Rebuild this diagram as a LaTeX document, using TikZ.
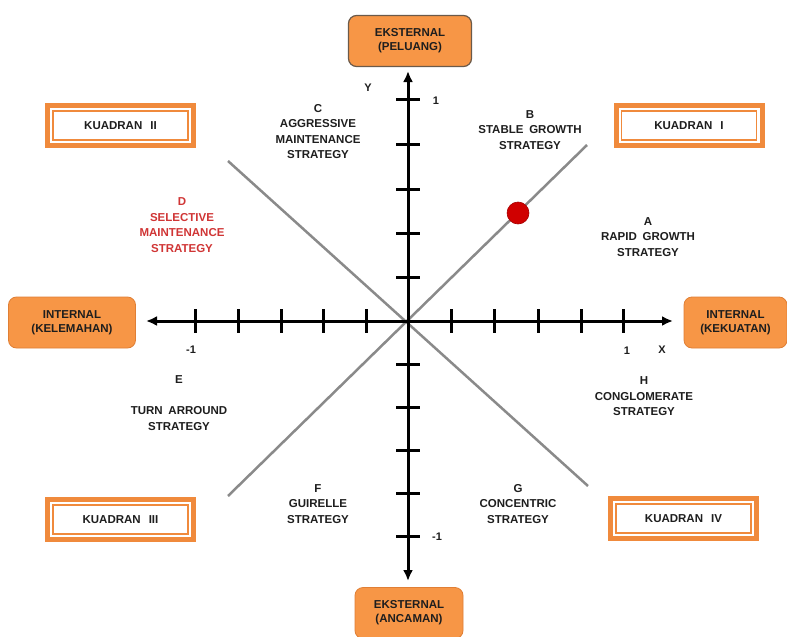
\documentclass[tikz,border=0pt]{standalone}
\usepackage{fontspec}
\setmainfont{Liberation Sans}
\usetikzlibrary{arrows.meta}
\definecolor{boxorange}{HTML}{F79646}
\definecolor{boxedge}{HTML}{E07F35}
\definecolor{topedge}{HTML}{6B5A4A}
\definecolor{kor}{HTML}{F08A3C}
\definecolor{txt}{HTML}{1E1E1E}
\definecolor{dred}{HTML}{D03535}
\definecolor{dotred}{HTML}{D00000}
\definecolor{diag}{HTML}{8A8A8A}
\begin{document}
\begin{tikzpicture}[x=1pt,y=-1pt,
  lbl/.style={font=\bfseries\fontsize{11.5}{15.5}\selectfont, align=center, inner sep=0pt, text=txt},
  obox/.style={rounded corners=8pt, fill=boxorange, draw=boxedge, line width=0.8pt,
    minimum height=51pt, align=center, inner sep=0pt, outer sep=0pt,
    font=\bfseries\fontsize{11.5}{14}\selectfont, text=txt},
  kbox/.style={draw=kor, line width=5pt, fill=white, minimum width=146pt, minimum height=40pt,
    inner sep=0pt, outer sep=0pt, font=\bfseries\fontsize{11.5}{14}\selectfont, text=txt},
  axis/.style={line width=3pt, black},
  tickmark/.style={line width=3pt, black},
  diagline/.style={line width=2.5pt, diag},
  num/.style={font=\bfseries\fontsize{11}{13}\selectfont, inner sep=0pt, text=txt}
]
\useasboundingbox (0,0) rectangle (787,637);
\fill[white] (0,0) rectangle (787,637);

% diagonal lines
\coordinate (d1a) at (228,496);
\coordinate (d1b) at (587,145);
\coordinate (d2a) at (228,161);
\coordinate (d2b) at (588,486);
\draw[diagline] (d1a) -- (d1b);
\draw[diagline] (d2a) -- (d2b);

% axes
\coordinate (xl) at (146,321);
\coordinate (xr) at (673,321);
\coordinate (yt) at (408,71);
\coordinate (yb) at (408,581);
\draw[axis, {Latex[length=11pt,width=10pt]}-{Latex[length=11pt,width=10pt]}] (xl) -- (xr);
\draw[axis, {Latex[length=11pt,width=10pt]}-{Latex[length=11pt,width=10pt]}] (yt) -- (yb);

% ticks
\foreach \x in {195,238,281,323,366,451,494,538,581,623}
  \draw[tickmark] (\x,309) -- (\x,333);
\foreach \y in {99,144,189,233,277,364,407,450,493,536}
  \draw[tickmark] (396,\y) -- (420,\y);

% red dot
\node[circle, fill=dotred, draw=dotred!80!black, line width=0.6pt, minimum size=22pt, inner sep=0pt] (dot) at (518,213) {};

% axis labels
\node[num] (ylab) at (368,88) {Y};
\node[num] (y1) at (436,101) {1};
\node[num] (ym1) at (437,537) {-1};
\node[num] (xm1) at (191,350) {-1};
\node[num] (x1) at (627,351) {1};
\node[num] (xlab) at (662,350) {X};

% orange boxes
\node[obox, draw=topedge, line width=1.2pt, minimum width=123pt] (ekst) at (410,41) {EKSTERNAL\\(PELUANG)};
\node[obox, minimum width=127pt] (ikel) at (72,322.5) {INTERNAL\\(KELEMAHAN)};
\node[obox, minimum width=103pt] (ikek) at (735.5,322.5) {INTERNAL\\(KEKUATAN)};
\node[obox, minimum width=108pt] (eanc) at (409,613) {EKSTERNAL\\(ANCAMAN)};

% kuadran boxes
\node[kbox] (k2) at (120.5,125.5) {KUADRAN\hspace{0.7em}II};
\node[kbox] (k1) at (689,125.5) {KUADRAN\hspace{0.7em}I};
\node[kbox] (k3) at (120.5,519.5) {KUADRAN\hspace{0.7em}III};
\node[kbox] (k4) at (683.5,518.5) {KUADRAN\hspace{0.7em}IV};
\foreach \k in {k1,k2,k3,k4}
  \draw[kor, line width=1.3pt] ([xshift=5.5pt,yshift=-5.5pt]\k.north west) rectangle ([xshift=-5.5pt,yshift=5.5pt]\k.south east);

% strategy labels
\node[lbl] (lc) at (318,131.5) {C\\AGGRESSIVE\\MAINTENANCE\\STRATEGY};
\node[lbl] (lb) at (530,130) {B\\STABLE\hspace{0.5em}GROWTH\\STRATEGY};
\node[lbl, text=dred] (ld) at (182,225) {D\\SELECTIVE\\MAINTENANCE\\STRATEGY};
\node[lbl] (la) at (648,237) {A\\RAPID\hspace{0.5em}GROWTH\\STRATEGY};
\node[lbl] (le) at (179,403) {E\\[15.5pt]TURN\hspace{0.5em}ARROUND\\STRATEGY};
\node[lbl] (lh) at (644,396.5) {H\\CONGLOMERATE\\STRATEGY};
\node[lbl] (lf) at (318,504) {F\\GUIRELLE\\STRATEGY};
\node[lbl] (lg) at (518,504) {G\\CONCENTRIC\\STRATEGY};
\end{tikzpicture}
\end{document}
